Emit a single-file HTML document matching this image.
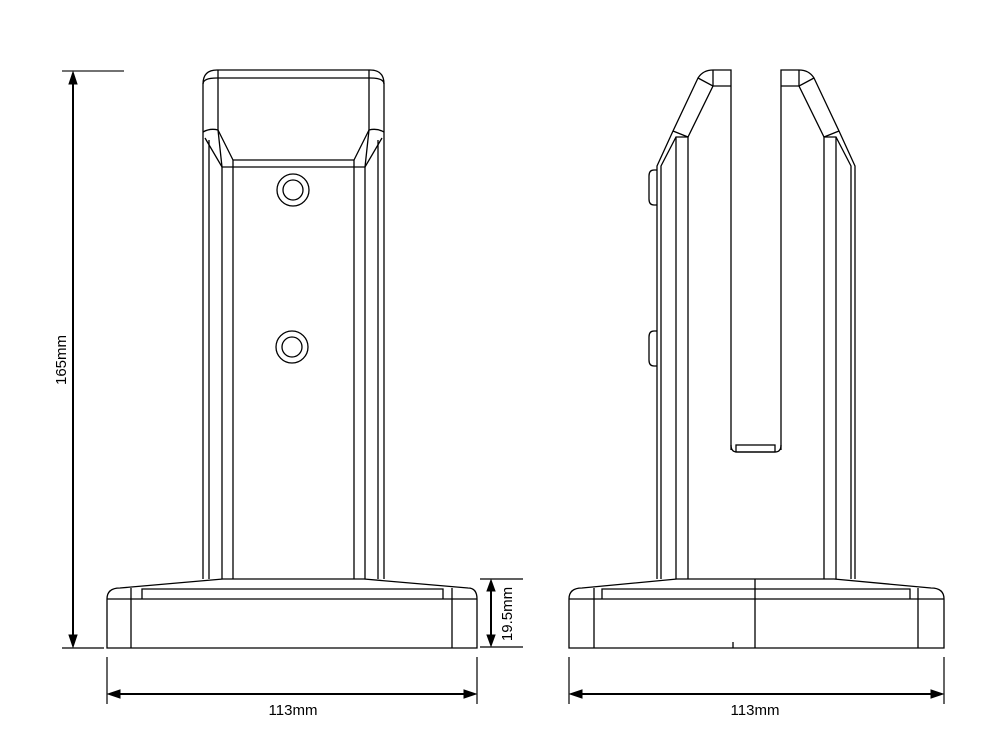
<!DOCTYPE html>
<html><head><meta charset="utf-8"><style>
html,body{margin:0;padding:0;background:#fff;}
svg{display:block;}
text{font-family:"Liberation Sans",sans-serif;font-size:15px;fill:#000;}
</style></head><body>
<svg width="993" height="733" viewBox="0 0 993 733" xmlns="http://www.w3.org/2000/svg">
<defs>
<marker id="a" markerWidth="10" markerHeight="8" refX="9" refY="4" orient="auto" markerUnits="userSpaceOnUse">
<path d="M0,0 L10,4 L0,8 z" fill="#000"/></marker>
</defs>
<g fill="none" stroke="#000" stroke-width="1.3">
<!-- FRONT VIEW post -->
<path d="M203,579 V84 Q203,70 217,70 H370 Q384,70 384,84 V579"/>
<path d="M203,84 Q203,78 217,78 H370 Q384,78 384,84"/>
<line x1="218" y1="70" x2="218" y2="130"/>
<line x1="369" y1="70" x2="369" y2="130"/>
<path d="M203,132 Q210,128 218,130 L233,160 H354 L369,130 Q377,128 384,132"/>
<path d="M205,138 L222,167 H365 L382,138"/>
<line x1="218" y1="130" x2="222" y2="167"/>
<line x1="369" y1="130" x2="365" y2="167"/>
<line x1="209" y1="140" x2="209" y2="579"/>
<line x1="378" y1="140" x2="378" y2="579"/>
<line x1="222" y1="167" x2="222" y2="579"/>
<line x1="365" y1="167" x2="365" y2="579"/>
<line x1="233" y1="160" x2="233" y2="579"/>
<line x1="354" y1="160" x2="354" y2="579"/>
<circle cx="293" cy="190" r="16"/><circle cx="293" cy="190" r="10"/>
<circle cx="292" cy="347" r="16"/><circle cx="292" cy="347" r="10"/>
<!-- FRONT base -->
<path d="M107,648 V599 Q107,588 120,588 L223,579 H364 L468,588 Q477,588 477,599 V648 Z"/>
<line x1="107" y1="599" x2="477" y2="599"/>
<line x1="131" y1="588" x2="131" y2="648"/>
<line x1="452" y1="588" x2="452" y2="648"/>
<path d="M142,599 V589 H443 V599"/>
<!-- SIDE VIEW left piece -->
<path d="M731,450 V70 H713 Q703,70 698,78 L673,131 L657,166 V579"/>
<path d="M713,70 V86 H731"/>
<path d="M698,78 L713,86 L688,137 L673,131"/>
<path d="M688,137 H676 L661,166 V579"/>
<line x1="676" y1="137" x2="676" y2="579"/>
<line x1="688" y1="137" x2="688" y2="579"/>
<path d="M657,170 H654 Q649,170 649,176 V199 Q649,205 654,205 H657"/>
<path d="M657,331 H654 Q649,331 649,337 V360 Q649,366 654,366 H657"/>
<!-- right piece -->
<path d="M781,450 V70 H799 Q809,70 814,78 L839,131 L855,166 V579"/>
<path d="M799,70 V86 H781"/>
<path d="M814,78 L799,86 L824,137 L839,131"/>
<path d="M824,137 H836 L851,166 V579"/>
<line x1="836" y1="137" x2="836" y2="579"/>
<line x1="824" y1="137" x2="824" y2="579"/>
<path d="M731,445 Q731,452 737,452 H775 Q781,452 781,445"/>
<rect x="736" y="445" width="39" height="7"/>
<!-- SIDE base -->
<path d="M569,648 V599 Q569,588 582,588 L677,579 H834 L931,588 Q944,588 944,599 V648 Z"/>
<line x1="569" y1="599" x2="944" y2="599"/>
<line x1="594" y1="588" x2="594" y2="648"/>
<line x1="918" y1="588" x2="918" y2="648"/>
<path d="M602,599 V589 H910 V599"/>
<line x1="755" y1="579" x2="755" y2="648"/>
<line x1="733" y1="642" x2="733" y2="648"/>
</g>
<!-- dimensions -->
<g stroke="#000" fill="none">
<line x1="62" y1="71" x2="124" y2="71" stroke="#444" stroke-width="1.5"/>
<line x1="62" y1="648" x2="104" y2="648" stroke-width="1.2"/>
<line x1="73" y1="82" x2="73" y2="637" stroke-width="2"/>
<path d="M73,72 L69,84 L77,84 z" fill="#000"/>
<path d="M73,647 L69,635 L77,635 z" fill="#000"/>
<line x1="107" y1="657" x2="107" y2="704" stroke-width="1.2"/>
<line x1="477" y1="657" x2="477" y2="704" stroke-width="1.2"/>
<line x1="118" y1="694" x2="466" y2="694" stroke-width="2"/>
<path d="M108,694 L120,690 L120,698 z" fill="#000"/>
<path d="M476,694 L464,690 L464,698 z" fill="#000"/>
<line x1="569" y1="657" x2="569" y2="704" stroke-width="1.2"/>
<line x1="944" y1="657" x2="944" y2="704" stroke-width="1.2"/>
<line x1="580" y1="694" x2="933" y2="694" stroke-width="2"/>
<path d="M570,694 L582,690 L582,698 z" fill="#000"/>
<path d="M943,694 L931,690 L931,698 z" fill="#000"/>
<line x1="480" y1="579" x2="523" y2="579" stroke-width="1.2"/>
<line x1="480" y1="647" x2="523" y2="647" stroke-width="1.2"/>
<line x1="491" y1="588" x2="491" y2="638" stroke-width="2"/>
<path d="M491,580 L487,591 L495,591 z" fill="#000"/>
<path d="M491,646 L487,635 L495,635 z" fill="#000"/>
</g>
<text x="293" y="715" text-anchor="middle">113mm</text>
<text x="755" y="715" text-anchor="middle">113mm</text>
<text transform="translate(66,360) rotate(-90)" text-anchor="middle">165mm</text>
<text transform="translate(512,614) rotate(-90)" text-anchor="middle">19.5mm</text>
</svg>
</body></html>
